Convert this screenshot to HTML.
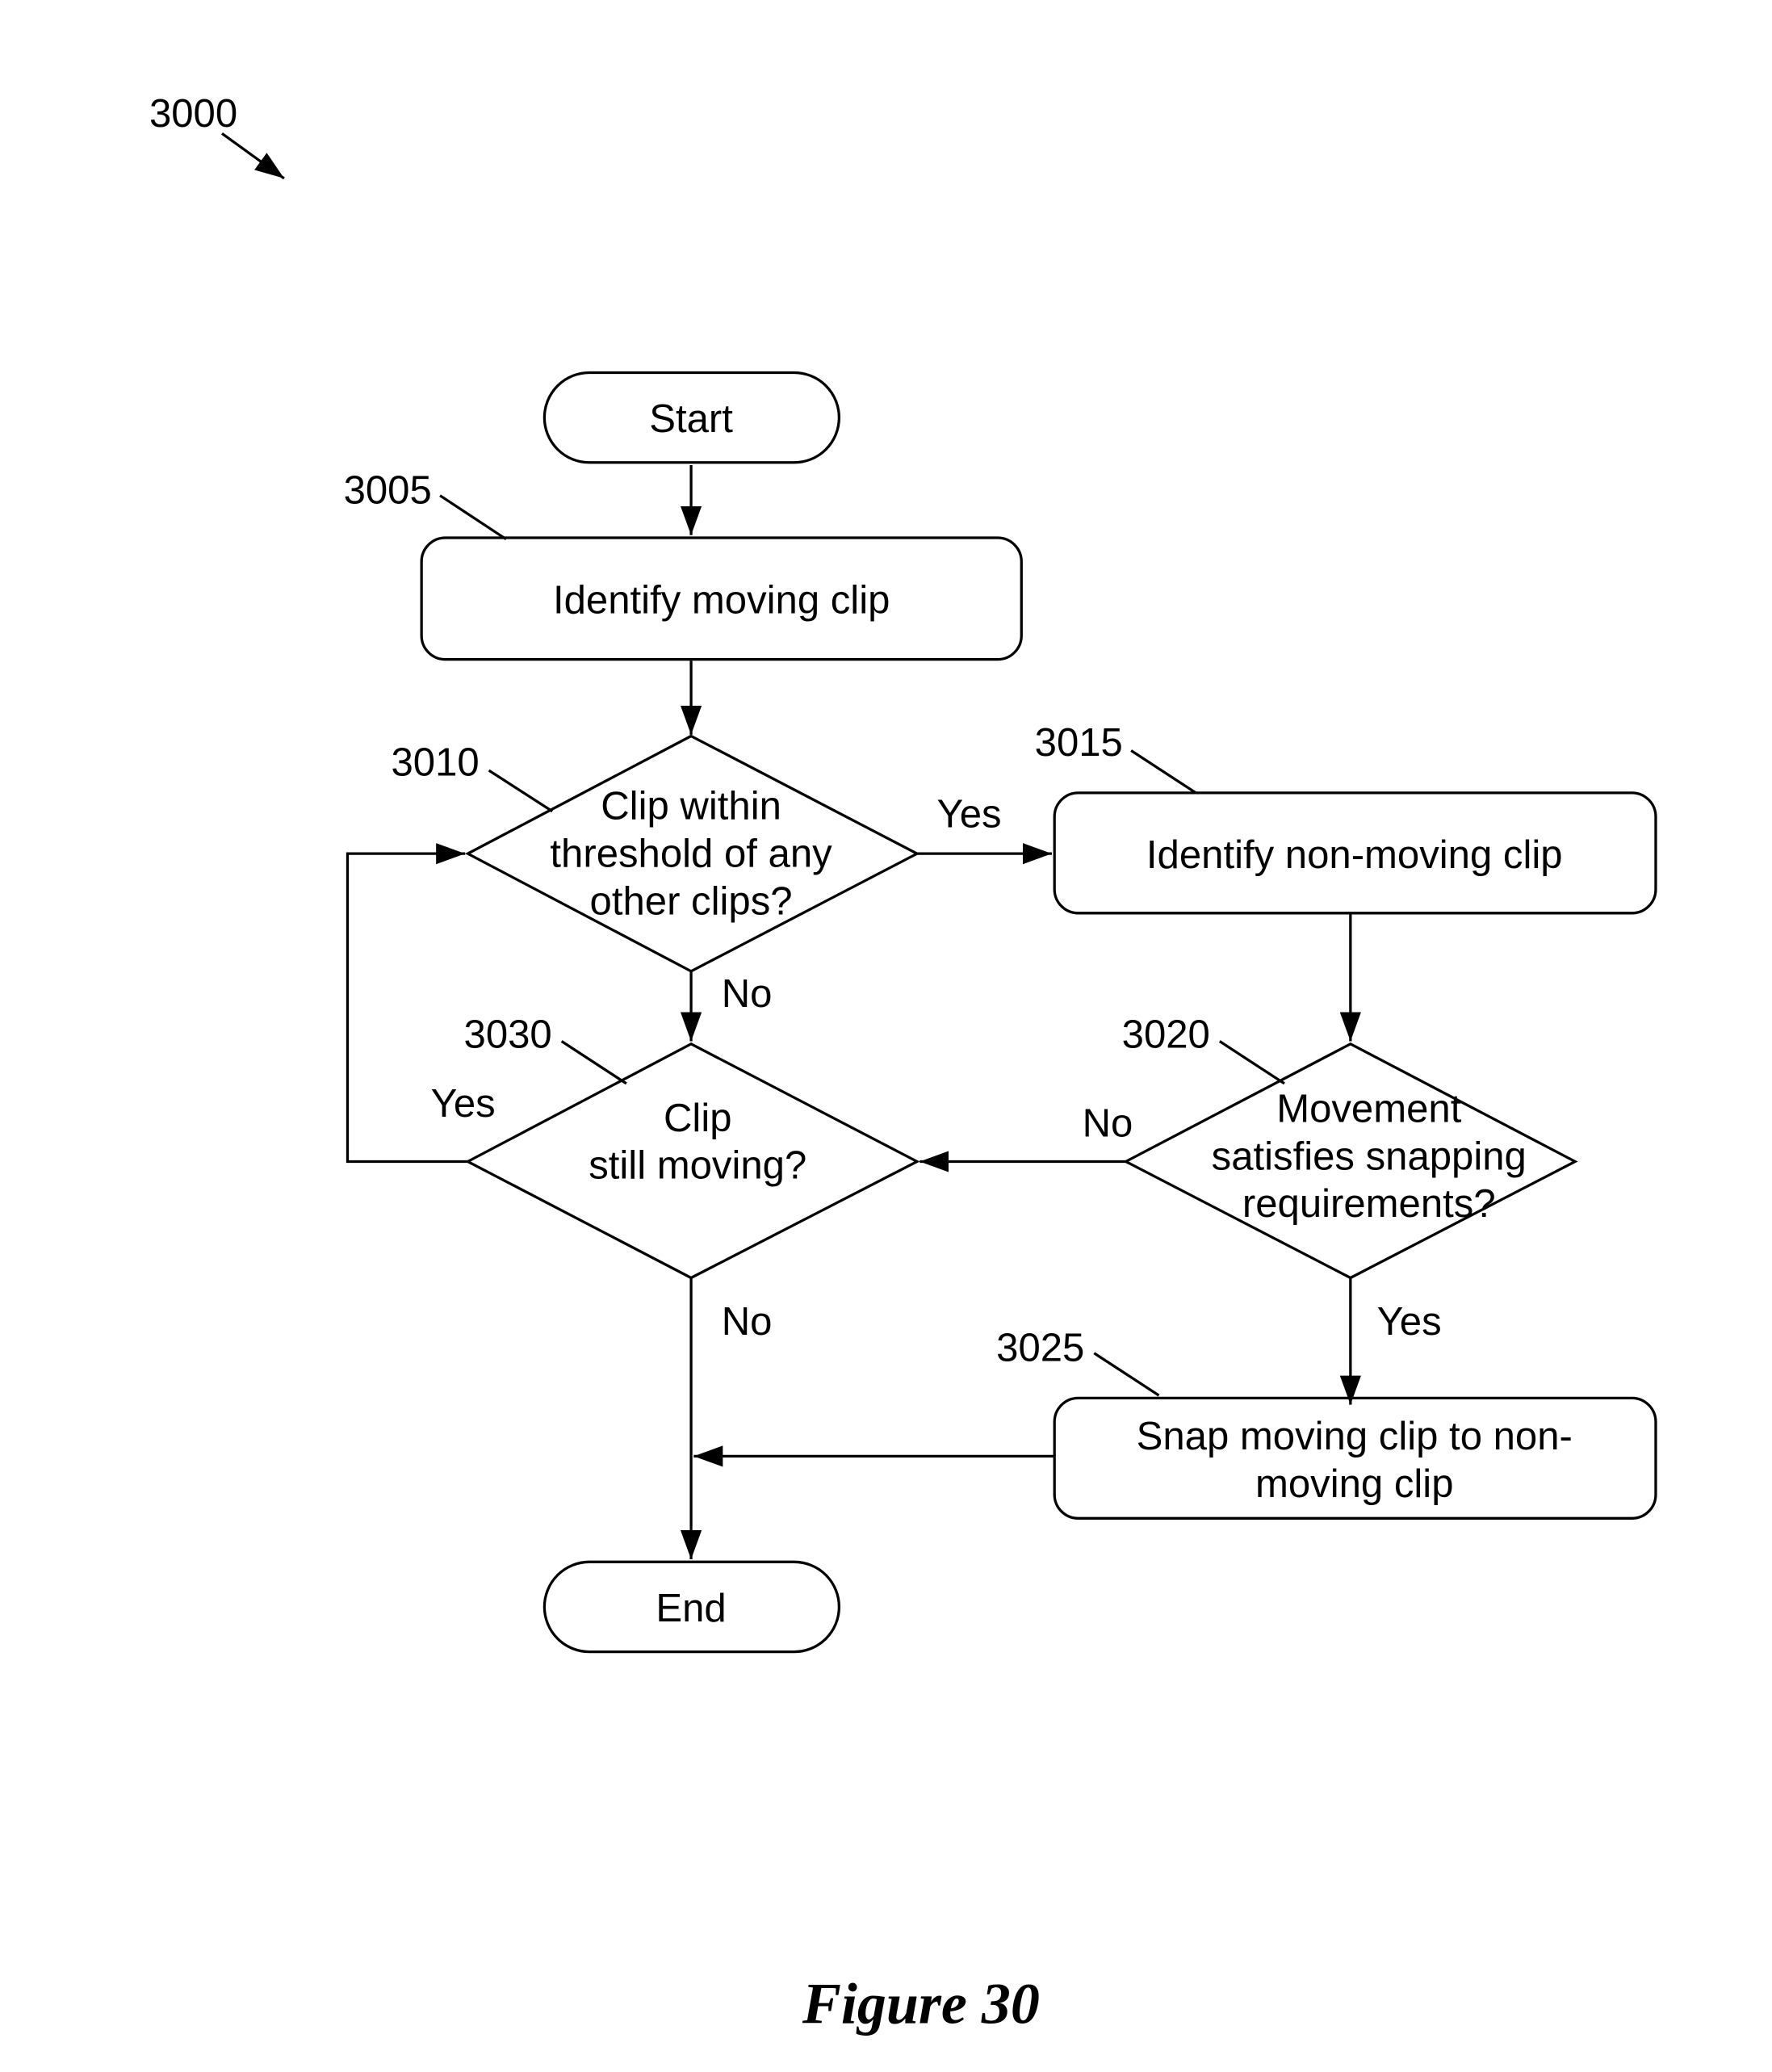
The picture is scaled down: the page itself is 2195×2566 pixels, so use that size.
<!DOCTYPE html>
<html><head><meta charset="utf-8"><style>html,body{margin:0;padding:0;background:#fff}svg{display:block}</style></head>
<body>
<svg width="2195" height="2566" viewBox="0 0 1341 1568" preserveAspectRatio="none" xmlns="http://www.w3.org/2000/svg" font-family="Liberation Sans, sans-serif" font-size="30" fill="#000">
<defs>
<marker id="b" markerWidth="22" markerHeight="16" refX="22" refY="8" orient="auto" markerUnits="userSpaceOnUse"><path d="M0,0 L22,8 L0,16z" fill="#000"/></marker></defs>
<g stroke="#000" stroke-width="2" fill="none">
<line x1="168" y1="101" x2="215" y2="135" marker-end="url(#b)"/>
<rect x="412" y="282" width="223" height="68" rx="34"/>
<rect x="412" y="1182" width="223" height="68" rx="34"/>
<rect x="319" y="407" width="454" height="92" rx="18"/>
<rect x="798" y="600" width="455" height="91" rx="18"/>
<rect x="798" y="1058" width="455" height="91" rx="18"/>
<polygon points="523,557 694,646 523,735 354,646"/>
<polygon points="523,790 694,879 523,967 354,879"/>
<polygon points="1022,790 1192,879 1022,967 852,879"/>
<line x1="523" y1="352" x2="523" y2="405" marker-end="url(#b)"/>
<line x1="523" y1="500" x2="523" y2="556" marker-end="url(#b)"/>
<line x1="694" y1="646" x2="796" y2="646" marker-end="url(#b)"/>
<line x1="1022" y1="692" x2="1022" y2="788" marker-end="url(#b)"/>
<line x1="852" y1="879" x2="696" y2="879" marker-end="url(#b)"/>
<line x1="523" y1="735" x2="523" y2="788" marker-end="url(#b)"/>
<polyline points="354,879 263,879 263,646 352,646" marker-end="url(#b)"/>
<line x1="523" y1="967" x2="523" y2="1180" marker-end="url(#b)"/>
<line x1="1022" y1="967" x2="1022" y2="1063" marker-end="url(#b)"/>
<line x1="798" y1="1102" x2="525" y2="1102" marker-end="url(#b)"/>
<line x1="333" y1="375" x2="383" y2="408"/>
<line x1="370" y1="583" x2="418" y2="614"/>
<line x1="856" y1="568" x2="905" y2="600"/>
<line x1="923" y1="788" x2="972" y2="820"/>
<line x1="425" y1="788" x2="474" y2="820"/>
<line x1="828" y1="1024" x2="877" y2="1056"/>
</g>
<g text-anchor="middle">
<text x="523" y="327">Start</text>
<text x="523" y="1227">End</text>
<text x="546" y="464">Identify moving clip</text>
<text x="1025" y="657">Identify non-moving clip</text>
<text x="1025" y="1097">Snap moving clip to non-</text>
<text x="1025" y="1133">moving clip</text>
<text x="523" y="620">Clip within</text>
<text x="523" y="656">threshold of any</text>
<text x="523" y="692">other clips?</text>
<text x="528" y="856">Clip</text>
<text x="528" y="892">still moving?</text>
<text x="1036" y="849">Movement</text>
<text x="1036" y="885">satisfies snapping</text>
<text x="1036" y="921">requirements?</text>
</g>
<g>
<text x="113" y="96">3000</text>
<text x="260" y="381">3005</text>
<text x="296" y="587">3010</text>
<text x="783" y="572">3015</text>
<text x="849" y="793">3020</text>
<text x="351" y="793">3030</text>
<text x="754" y="1030">3025</text>
<text x="709" y="626">Yes</text>
<text x="546" y="762">No</text>
<text x="326" y="845">Yes</text>
<text x="819" y="860">No</text>
<text x="546" y="1010">No</text>
<text x="1042" y="1010">Yes</text>
</g>
<text x="697" y="1531" text-anchor="middle" font-family="Liberation Serif, serif" font-weight="bold" font-style="italic" font-size="44">Figure 30</text>
</svg>
</body></html>
